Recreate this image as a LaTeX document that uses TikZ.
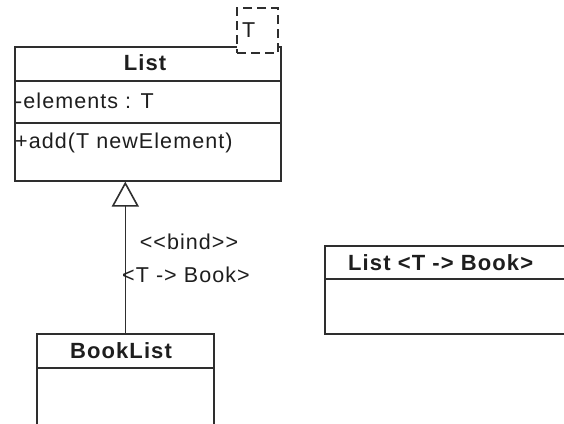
\documentclass[tikz,border=0pt]{standalone}
\usepackage{fontspec}
\newfontfamily\umlfont{Liberation Sans}[LetterSpace=5]
\usetikzlibrary{arrows.meta}
\definecolor{linegray}{HTML}{2E2E2E}
\definecolor{textgray}{HTML}{1E1E1E}

\begin{document}
\begin{tikzpicture}[x=1pt, y=-1pt,
  box/.style={draw=linegray, line width=1.6pt, inner sep=0pt, anchor=north west},
  lbl/.style={inner sep=0pt, text=textgray, font=\umlfont\fontsize{21.5}{25}\selectfont},
  ttl/.style={inner sep=0pt, text=textgray, font=\umlfont\bfseries\fontsize{22}{26}\selectfont},
  tparambox/.style={draw=linegray, line width=1.6pt, dash pattern=on 9pt off 5pt,
    fill=white, minimum width=41pt, minimum height=45pt, inner sep=0pt},
  realize/.style={draw=linegray, line width=1.6pt,
    -{Triangle[open, width=27pt, length=25pt, line width=1.6pt, fill=white]}}
]
\useasboundingbox (0,0) rectangle (564,423);
\fill[white] (0,0) rectangle (564,423);
\clip (0,0) rectangle (564,423);

% template class List with parameter T
\node[box, minimum width=266pt, minimum height=34pt] (listname) at (14,46) {};
\node[box, minimum width=266pt, minimum height=42pt] (listattr) at (14,80) {};
\node[box, minimum width=266pt, minimum height=58pt] (listops) at (14,122) {};
\node[tparambox] (tparam) at (257.5,30.5) {};
\node[lbl, anchor=west] (tname) at (242,30) {T};
\node[ttl] (listtitle) at (145,63) {List};
\node[lbl, anchor=west] (listattrtext) at (15,101) {-elements : T};
\node[lbl, anchor=west] (listoptext) at (15,143) {+add(T newElement)};

% bound class BookList
\node[box, minimum width=177pt, minimum height=34pt] (bookname) at (36,333) {};
\node[box, minimum width=177pt, minimum height=80pt] (bookbody) at (36,367) {};
\node[ttl] (booktitle) at (121,351) {BookList};

% anonymous bound class
\node[box, minimum width=280pt, minimum height=33pt] (boundname) at (324,245) {};
\node[box, minimum width=280pt, minimum height=55pt] (boundbody) at (324,278) {};
\node[ttl, anchor=west] (boundtitle) at (348,263) {List <T -> Book>};

% binding dependency
\draw[realize] (bookname.north) -- (bookname.north |- listops.south);
\node[lbl] (bindlabel) at (189,242) {<<bind>>};
\node[lbl, anchor=west] (bindmap) at (122,275) {<T -> Book>};
\end{tikzpicture}
\end{document}
